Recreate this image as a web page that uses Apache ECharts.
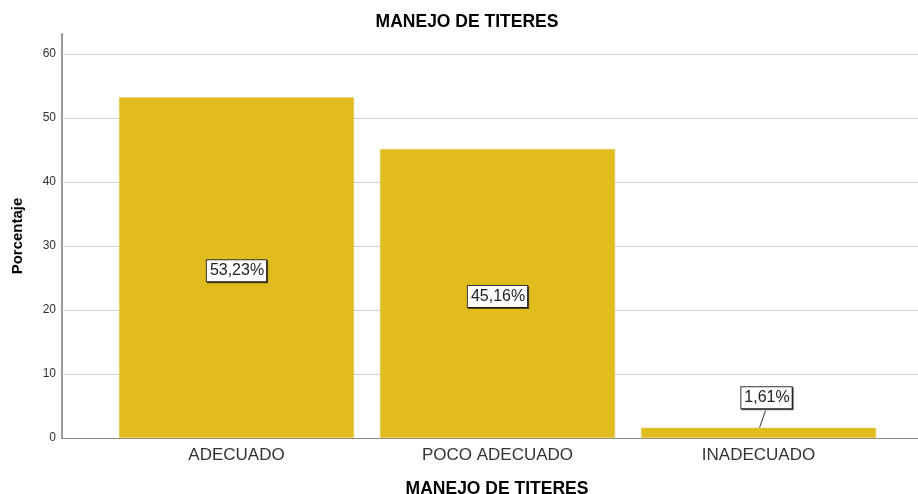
<!DOCTYPE html>
<html>
<head>
<meta charset="utf-8">
<script src="https://cdn.jsdelivr.net/npm/echarts@6/dist/echarts.min.js"></script>
<style>
  html, body { margin: 0; padding: 0; background: #fff; }
  #main { width: 918px; height: 494px; }
</style>
</head>
<body>
<div id="main"></div>
<script>
// datos
var categorias = ['ADECUADO', 'POCO ADECUADO', 'INADECUADO'];
var porcentajes = [53.23, 45.16, 1.61];
var etiquetas = ['53,23%', '45,16%', '1,61%'];
var ticksY = [0, 10, 20, 30, 40, 50, 60];

var barData = [];
for (var i = 0; i < categorias.length; i++) {
  barData.push([i, porcentajes[i]]);
}

var fuente = 'Liberation Sans, Arial';

var chart = echarts.init(document.getElementById('main'));
chart.setOption({
  animation: false,
  title: {
    text: 'MANEJO DE TITERES',
    left: 462,
    textAlign: 'center',
    top: 8,
    textStyle: { fontFamily: fuente, fontSize: 17.5, fontWeight: 'bold', color: '#000' }
  },
  grid: { left: 62, right: 0, top: 34, bottom: 56, containLabel: false, outerBoundsMode: 'none' },
  xAxis: {
    type: 'value',
    min: -0.6686,
    max: 2.611,
    splitLine: { show: false },
    axisLine: { show: true, onZero: false, lineStyle: { color: '#888', width: 1 } },
    axisTick: { show: false },
    axisLabel: {
      customValues: [0, 1, 2],
      formatter: function (v) { return categorias[Math.round(v)]; },
      fontFamily: fuente,
      fontSize: 17,
      color: '#333',
      margin: 9
    },
    name: 'MANEJO DE TITERES',
    nameLocation: 'middle',
    nameGap: 42,
    nameTextStyle: { fontFamily: fuente, fontSize: 17.5, fontWeight: 'bold', color: '#000', padding: [0, 0, 0, 14] }
  },
  yAxis: {
    type: 'value',
    min: 0,
    max: 63.125,
    interval: 10,
    axisLine: { show: true, onZero: false, lineStyle: { color: '#999', width: 2 } },
    axisTick: { show: false },
    axisLabel: {
      customValues: ticksY,
      fontFamily: fuente,
      fontSize: 12,
      color: '#333',
      margin: 6
    },
    splitLine: { show: true, lineStyle: { color: '#d4d4d4', width: 1 } },
    name: 'Porcentaje',
    nameLocation: 'middle',
    nameGap: 37,
    nameTextStyle: { fontFamily: fuente, fontSize: 15, fontWeight: 'bold', color: '#000' }
  },
  series: [{
    type: 'bar',
    data: barData,
    barWidth: 235,
    itemStyle: { color: '#E0BC1F', borderColor: '#E8CD5A', borderWidth: 0.5 },
    label: {
      show: true,
      position: 'inside',
      formatter: function (p) { return etiquetas[p.dataIndex]; },
      fontFamily: fuente,
      fontSize: 16,
      color: '#222',
      backgroundColor: '#fff',
      borderColor: '#333',
      borderWidth: 1,
      padding: [3, 2, 2, 3],
      shadowColor: 'rgba(0,0,0,0.6)',
      shadowOffsetX: 1,
      shadowOffsetY: 1,
      shadowBlur: 0
    },
    labelLayout: function (p) {
      if (p.dataIndex === 2) {
        return { dx: 8, dy: -35 };
      }
      return { dy: 3 };
    },
    labelLine: { show: false }
  }]
});

// quitar la linea de rejilla del tope (63,125) y dibujar la guia de la etiqueta pequena
var arriba = chart.convertToPixel({ gridIndex: 0 }, [0, 63.125]);
var base = chart.convertToPixel({ gridIndex: 0 }, [2, porcentajes[2]]);
chart.setOption({
  graphic: [
    { type: 'line', z: 1, shape: { x1: 64, y1: arriba[1], x2: 918, y2: arriba[1] }, style: { stroke: '#fff', lineWidth: 2 } },
    { type: 'line', z: 1, shape: { x1: base[0] + 1, y1: base[1], x2: base[0] + 7, y2: base[1] - 17 }, style: { stroke: '#333', lineWidth: 1 } }
  ]
});
</script>
</body>
</html>
